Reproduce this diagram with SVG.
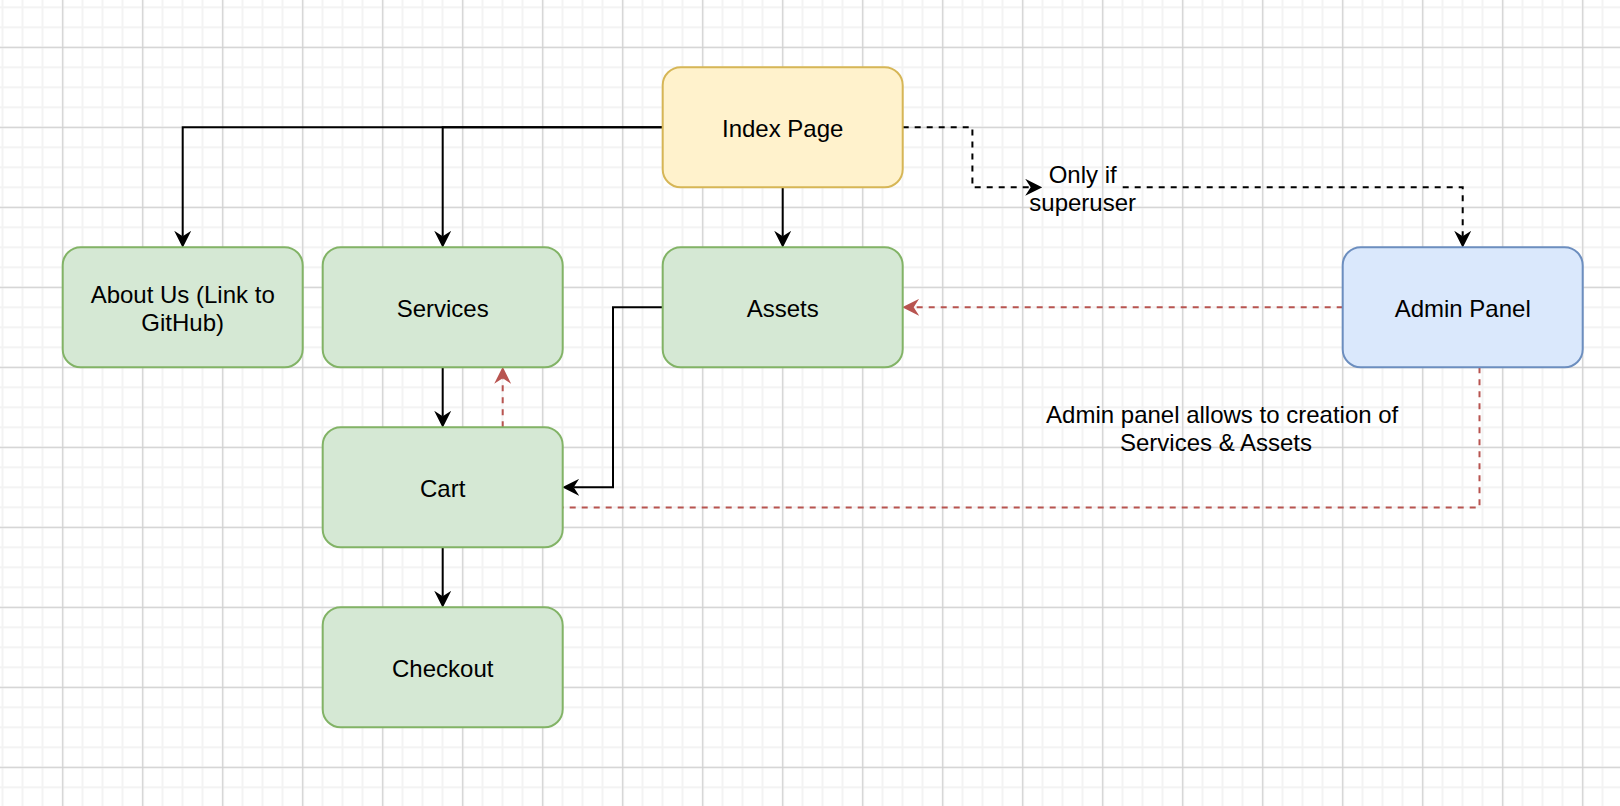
<svg xmlns="http://www.w3.org/2000/svg" width="1620" height="806" viewBox="0 0 1620 806">
  <defs>
    <pattern id="minor" x="1.5" y="6.3" width="20" height="20" patternUnits="userSpaceOnUse">
      <rect x="0" y="0" width="2" height="20" fill="#f3f3f3"/>
      <rect x="0" y="0" width="20" height="2" fill="#f3f3f3"/>
    </pattern>
    <pattern id="major" x="62.2" y="46.8" width="80" height="80" patternUnits="userSpaceOnUse">
      <rect x="0" y="0" width="1.2" height="80" fill="#d0d0d0"/>
      <rect x="0" y="0" width="80" height="1.2" fill="#d0d0d0"/>
    </pattern>
    <marker id="arrowBlack" viewBox="0 0 17 17" refX="5.5" refY="8.5" markerWidth="17" markerHeight="17" markerUnits="userSpaceOnUse" orient="auto">
      <path d="M0,0 L17,8.5 L0,17 L5.5,8.5 Z" fill="#000000"/>
    </marker>
    <marker id="arrowRed" viewBox="0 0 17 17" refX="5.5" refY="8.5" markerWidth="17" markerHeight="17" markerUnits="userSpaceOnUse" orient="auto">
      <path d="M0,0 L17,8.5 L0,17 L5.5,8.5 Z" fill="#b85450"/>
    </marker>
  </defs>
  <style>
    .node rect { stroke-width: 2; }
    .green rect { fill: #d5e8d4; stroke: #82b366; }
    .yellow rect { fill: #fff2cc; stroke: #d6b656; }
    .blue rect { fill: #dae8fc; stroke: #6c8ebf; }
    text { font-family: "Liberation Sans", Arial, Helvetica, sans-serif; font-size: 24px; fill: #000000; text-anchor: middle; }
    .edge { fill: none; stroke-width: 2; }
    .solid { stroke: #000000; }
    .dashblack { stroke: #000000; stroke-dasharray: 6 6; }
    .dashred { stroke: #b85450; stroke-dasharray: 6 6; }
  </style>

  <rect x="0" y="0" width="1620" height="806" fill="#ffffff"/>
  <rect x="0" y="0" width="1620" height="806" fill="url(#minor)"/>
  <rect x="0" y="0" width="1620" height="806" fill="url(#major)"/>

  <g id="connectors">
    <path class="edge solid" d="M662.7,127.3 H182.7 V236.3" marker-end="url(#arrowBlack)"/>
    <path class="edge solid" d="M662.7,127.3 H442.7 V236.3" marker-end="url(#arrowBlack)"/>
    <path class="edge solid" d="M782.7,187.3 V236.3" marker-end="url(#arrowBlack)"/>
    <path class="edge dashblack" d="M902.7,127.3 H972.4 V187.3 H1030.7" marker-end="url(#arrowBlack)"/>
    <path class="edge dashblack" d="M1122.7,187.3 H1462.7 V236.3" marker-end="url(#arrowBlack)"/>
    <path class="edge solid" d="M442.7,367.3 V416.3" marker-end="url(#arrowBlack)"/>
    <path class="edge dashred" d="M502.7,427.3 V378.3" marker-end="url(#arrowRed)"/>
    <path class="edge solid" d="M662.7,307.3 H613 V487.3 H573.7" marker-end="url(#arrowBlack)"/>
    <path class="edge dashred" d="M1342.7,307.3 H913.7" marker-end="url(#arrowRed)"/>
    <path class="edge dashred" d="M1479.5,367.3 V507.5 H562.7"/>
    <path class="edge solid" d="M442.7,547.3 V596.3" marker-end="url(#arrowBlack)"/>
  </g>

  <g id="index-page" class="node yellow">
    <rect x="662.7" y="67.3" width="240" height="120" rx="18"/>
    <text x="782.7" y="136.8">Index Page</text>
  </g>
  <g id="about-us" class="node green">
    <rect x="62.7" y="247.3" width="240" height="120" rx="18"/>
    <text x="182.7" y="302.7">About Us (Link to</text>
    <text x="182.7" y="331">GitHub)</text>
  </g>
  <g id="services" class="node green">
    <rect x="322.7" y="247.3" width="240" height="120" rx="18"/>
    <text x="442.7" y="316.8">Services</text>
  </g>
  <g id="assets" class="node green">
    <rect x="662.7" y="247.3" width="240" height="120" rx="18"/>
    <text x="782.7" y="316.8">Assets</text>
  </g>
  <g id="admin-panel" class="node blue">
    <rect x="1342.7" y="247.3" width="240" height="120" rx="18"/>
    <text x="1462.7" y="316.8">Admin Panel</text>
  </g>
  <g id="cart" class="node green">
    <rect x="322.7" y="427.3" width="240" height="120" rx="18"/>
    <text x="442.7" y="496.8">Cart</text>
  </g>
  <g id="checkout" class="node green">
    <rect x="322.7" y="607.3" width="240" height="120" rx="18"/>
    <text x="442.7" y="676.8">Checkout</text>
  </g>
  <g id="label-superuser">
    <text x="1082.7" y="182.7">Only if</text>
    <text x="1082.7" y="210.7">superuser</text>
  </g>
  <g id="label-admin-note">
    <text x="1222.2" y="422.7">Admin panel allows to creation of</text>
    <text x="1216" y="450.7">Services &amp; Assets</text>
  </g>
</svg>
